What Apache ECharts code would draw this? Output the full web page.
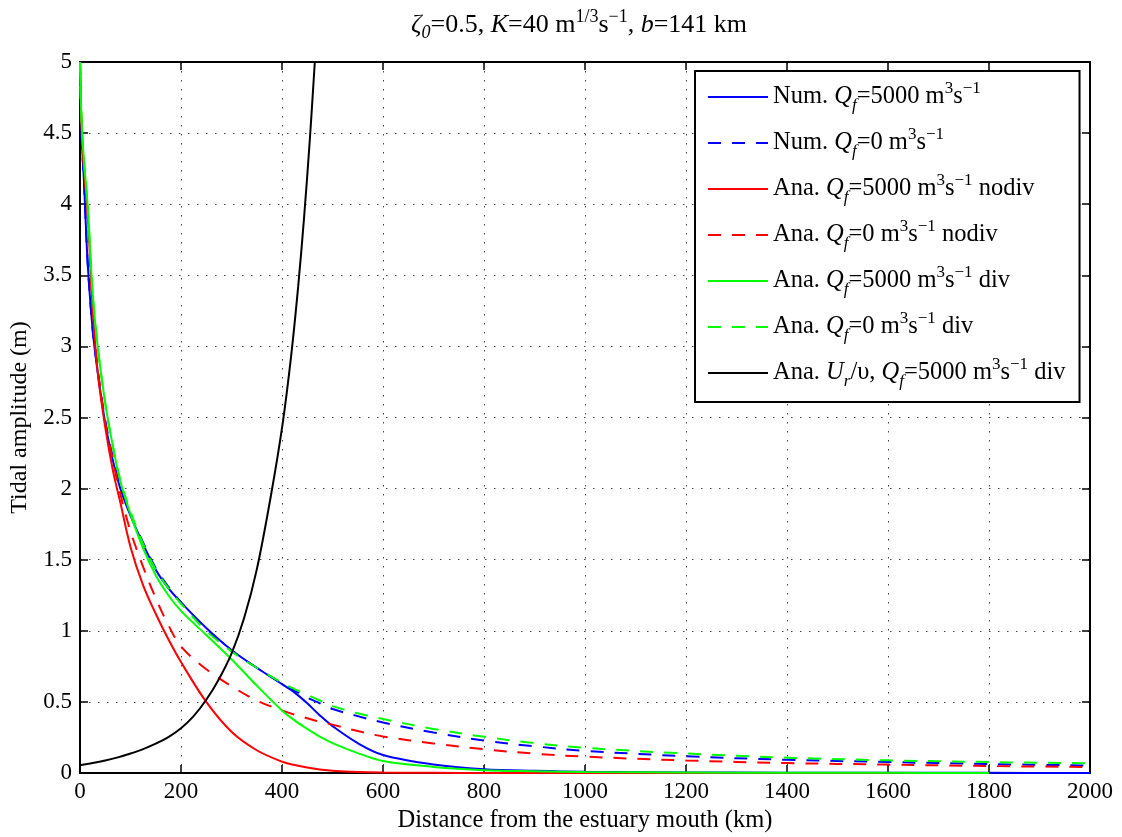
<!DOCTYPE html>
<html>
<head>
<meta charset="utf-8">
<script src="https://cdn.jsdelivr.net/npm/echarts@6/dist/echarts.min.js"></script>
<style>
  html, body { margin: 0; padding: 0; background: #fff; }
  #chart { width: 1122px; height: 837px; }
</style>
</head>
<body>
<div id="chart"></div>
<script>
// Distance along the estuary (km) at which the amplitude curves are sampled
const distanceKm = [0, 3, 8, 15, 25, 35, 50, 65, 80, 100, 125, 150, 175, 200, 250, 300, 350, 400, 425, 450, 475, 500, 550, 600, 700, 800, 900, 1000, 1200, 1400, 1600, 1800, 2000];

// Tidal amplitude (m)
const numQ5000 = [5.0, 4.5, 4.15, 3.6, 3.12, 2.82, 2.46, 2.2, 2.0, 1.81, 1.61, 1.43, 1.3, 1.2, 1.02, 0.865, 0.74, 0.625, 0.565, 0.49, 0.405, 0.33, 0.21, 0.127, 0.06, 0.027, 0.015, 0.008, 0.004, 0.002, 0.001, 0.001, 0.0];
const numQ0 = [5.0, 4.5, 4.15, 3.6, 3.12, 2.83, 2.48, 2.22, 2.02, 1.82, 1.62, 1.44, 1.31, 1.2, 1.01, 0.86, 0.74, 0.63, 0.58, 0.53, 0.49, 0.45, 0.4, 0.355, 0.285, 0.228, 0.188, 0.156, 0.118, 0.093, 0.077, 0.063, 0.053];
const anaQ5000NoDiv = [5.0, 4.55, 4.25, 3.95, 3.27, 2.82, 2.43, 2.13, 1.9, 1.59, 1.32, 1.12, 0.94, 0.78, 0.5, 0.29, 0.16, 0.08, 0.056, 0.038, 0.025, 0.016, 0.007, 0.003, 0.001, 0, 0, 0, 0, 0, 0, 0, null];
const anaQ0NoDiv = [5.0, 4.55, 4.25, 3.95, 3.27, 2.85, 2.46, 2.2, 1.96, 1.7, 1.45, 1.23, 1.04, 0.89, 0.73, 0.61, 0.51, 0.44, 0.41, 0.385, 0.36, 0.34, 0.295, 0.257, 0.208, 0.167, 0.136, 0.115, 0.088, 0.07, 0.059, 0.049, 0.042];
const anaQ5000Div = [5.0, 4.6, 4.3, 4.0, 3.38, 3.0, 2.6, 2.3, 2.05, 1.82, 1.58, 1.39, 1.25, 1.14, 0.97, 0.8, 0.615, 0.44, 0.37, 0.31, 0.255, 0.21, 0.14, 0.085, 0.043, 0.02, 0.012, 0.007, 0.003, 0.001, 0.001, 0, null];
const anaQ0Div = [5.0, 4.6, 4.3, 4.0, 3.38, 3.0, 2.6, 2.3, 2.06, 1.84, 1.61, 1.43, 1.3, 1.19, 1.0, 0.855, 0.74, 0.635, 0.59, 0.55, 0.51, 0.47, 0.42, 0.38, 0.31, 0.255, 0.21, 0.177, 0.137, 0.108, 0.089, 0.077, 0.068];

// Ur/upsilon ratio, sampled on its own distances
const ratioKm = [0, 25, 50, 75, 100, 125, 150, 175, 200, 225, 250, 275, 300, 325, 350, 378, 401, 418, 432, 444, 455, 465];
const ratioUr = [0.055, 0.07, 0.088, 0.11, 0.137, 0.168, 0.206, 0.253, 0.315, 0.4, 0.515, 0.66, 0.84, 1.09, 1.43, 1.95, 2.45, 2.93, 3.42, 3.92, 4.45, 5.0];

const FONT = '"Liberation Serif", "Times New Roman", serif';

const legendLabels = {
  numQ5000: '{n|Num. }{i|Q}{sub|f}{n|=5000 m}{sup|3}{n|s}{sup|−1}',
  numQ0: '{n|Num. }{i|Q}{sub|f}{n|=0 m}{sup|3}{n|s}{sup|−1}',
  anaQ5000NoDiv: '{n|Ana. }{i|Q}{sub|f}{n|=5000 m}{sup|3}{n|s}{sup|−1}{n| nodiv}',
  anaQ0NoDiv: '{n|Ana. }{i|Q}{sub|f}{n|=0 m}{sup|3}{n|s}{sup|−1}{n| nodiv}',
  anaQ5000Div: '{n|Ana. }{i|Q}{sub|f}{n|=5000 m}{sup|3}{n|s}{sup|−1}{n| div}',
  anaQ0Div: '{n|Ana. }{i|Q}{sub|f}{n|=0 m}{sup|3}{n|s}{sup|−1}{n| div}',
  ratio: '{n|Ana. }{i|U}{sub|r}{n|/υ, }{i|Q}{sub|f}{n|=5000 m}{sup|3}{n|s}{sup|−1}{n| div}'
};

const titleText = '{i|ζ}{sub|0}{n|=0.5, }{i|K}{n|=40 m}{sup|1/3}{n|s}{sup|−1}{n|, }{i|b}{n|=141 km}';

function richStyles(size, supSize) {
  return {
    n: { fontFamily: FONT, fontSize: size, lineHeight: 34, verticalAlign: 'middle', color: '#000' },
    i: { fontFamily: FONT, fontSize: size, lineHeight: 34, verticalAlign: 'middle', fontStyle: 'italic', color: '#000' },
    sup: { fontFamily: FONT, fontSize: supSize, lineHeight: 16, verticalAlign: 'top', color: '#000' },
    sub: { fontFamily: FONT, fontSize: supSize, lineHeight: 16, verticalAlign: 'bottom', fontStyle: 'italic', color: '#000' }
  };
}

function pairs(xs, ys) {
  return xs.map((x, k) => [x, ys[k]]);
}

const DASH = [13, 11];

function curve(name, xs, ys, color, dashed) {
  return {
    name: name,
    type: 'line',
    data: pairs(xs, ys),
    showSymbol: false,
    symbol: 'none',
    smooth: 0.35,
    connectNulls: false,
    lineStyle: { color: color, width: 2, type: dashed ? DASH : 'solid' },
    itemStyle: { color: color },
    emphasis: { disabled: true },
    animation: false
  };
}

const series = [
  curve('numQ5000', distanceKm, numQ5000, '#0000ff', false),
  curve('numQ0', distanceKm, numQ0, '#0000ff', true),
  curve('anaQ5000NoDiv', distanceKm, anaQ5000NoDiv, '#ff0000', false),
  curve('anaQ0NoDiv', distanceKm, anaQ0NoDiv, '#ff0000', true),
  curve('anaQ5000Div', distanceKm, anaQ5000Div, '#00ff00', false),
  curve('anaQ0Div', distanceKm, anaQ0Div, '#00ff00', true),
  curve('ratio', ratioKm, ratioUr, '#000000', false)
];

const gridDots = { show: true, lineStyle: { color: '#444', width: 1, type: [1.5, 7.5] } };
const tickIn = { show: true, inside: true, length: 8, lineStyle: { color: '#000', width: 1.5 } };
const frame = { show: true, onZero: false, lineStyle: { color: '#000', width: 2 } };
const plainNumber = v => String(v);

const chart = echarts.init(document.getElementById('chart'), null, { renderer: 'canvas' });
chart.setOption({
  backgroundColor: '#fff',
  animation: false,
  title: {
    text: titleText,
    left: 406,
    top: 3,
    textStyle: { fontFamily: FONT, fontSize: 26, fontWeight: 'normal', color: '#000', rich: richStyles(26, 18) }
  },
  grid: { left: 80, right: 32, top: 62, bottom: 64, containLabel: false, outerBoundsMode: 'none' },
  legend: {
    data: series.map(s => s.name),
    orient: 'vertical',
    left: 695,
    top: 71,
    itemWidth: 60,
    itemHeight: 14,
    itemGap: 12,
    padding: [9, 14, 12, 12],
    borderColor: '#000',
    borderWidth: 2,
    backgroundColor: '#fff',
    selectedMode: false,
    itemStyle: { color: 'rgba(0,0,0,0)', borderWidth: 0, opacity: 0 },
    formatter: name => legendLabels[name],
    textStyle: { fontFamily: FONT, fontSize: 24.5, color: '#000', rich: richStyles(24.5, 17) }
  },
  xAxis: [
    {
      type: 'value', min: 0, max: 2000, interval: 200,
      name: 'Distance from the estuary mouth (km)',
      nameLocation: 'middle', nameGap: 33,
      nameTextStyle: { fontFamily: FONT, fontSize: 24.5, color: '#000' },
      axisLine: frame, axisTick: tickIn, splitLine: gridDots,
      axisLabel: { fontFamily: FONT, fontSize: 23, color: '#000', margin: 7, formatter: plainNumber }
    },
    {
      type: 'value', min: 0, max: 2000, interval: 200, position: 'top',
      axisLine: frame, axisTick: tickIn, splitLine: { show: false },
      axisLabel: { show: false }
    }
  ],
  yAxis: [
    {
      type: 'value', min: 0, max: 5, interval: 0.5,
      name: 'Tidal amplitude (m)',
      nameLocation: 'middle', nameGap: 48,
      nameTextStyle: { fontFamily: FONT, fontSize: 24, color: '#000' },
      axisLine: frame, axisTick: tickIn, splitLine: gridDots,
      axisLabel: { fontFamily: FONT, fontSize: 23, color: '#000', margin: 8, formatter: plainNumber }
    },
    {
      type: 'value', min: 0, max: 5, interval: 0.5, position: 'right',
      axisLine: frame, axisTick: tickIn, splitLine: { show: false },
      axisLabel: { show: false }
    }
  ],
  series: series
});
</script>
</body>
</html>
